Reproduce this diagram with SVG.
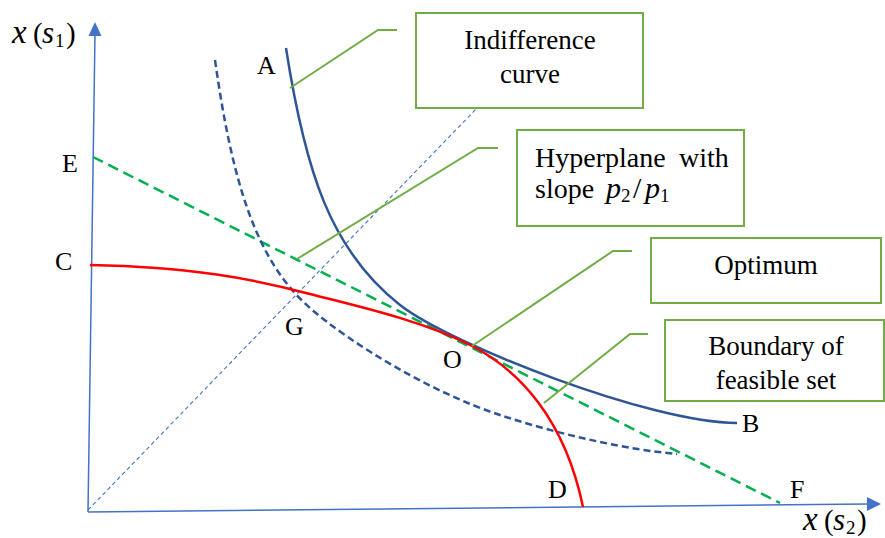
<svg xmlns="http://www.w3.org/2000/svg" width="885" height="538" viewBox="0 0 885 538">
<defs>
<style>
.lbl{font-family:"Liberation Serif","Times New Roman",serif;font-size:26px;fill:#000}
.box{fill:#fff;stroke:#70AD47;stroke-width:2}
.lead{fill:none;stroke:#70AD47;stroke-width:2}
.btxt{font-family:"Liberation Serif","Times New Roman",serif;font-size:27px;fill:#000;text-anchor:middle}
.ltxt{font-family:"Liberation Serif","Times New Roman",serif;font-size:28px;fill:#000}
.math{font-family:"Liberation Serif","Times New Roman",serif;font-size:29px;fill:#000}
.it{font-style:italic}
.sub{font-size:19px}
.axis{fill:none;stroke:#4472C4;stroke-width:1.5}
</style>
</defs>
<rect width="885" height="538" fill="#fff"/>
<g id="axes">
<path class="axis" d="M88,512 L95,34"/>
<polygon points="95,22 88.5,36 101.5,36" fill="#4472C4"/>
<path class="axis" d="M88,512 L868,504"/>
<polygon points="881,504 867,497 867,511" fill="#4472C4"/>
<text class="math" y="43"><tspan class="it" x="12" font-size="33">x</tspan><tspan x="33">(</tspan><tspan class="it" x="42" font-size="31">s</tspan><tspan class="sub" x="55" dy="4">1</tspan><tspan x="66" dy="-4">)</tspan></text>
<text class="math" y="530"><tspan class="it" x="803" font-size="33">x</tspan><tspan x="824">(</tspan><tspan class="it" x="833" font-size="31">s</tspan><tspan class="sub" x="846" dy="4">2</tspan><tspan x="857" dy="-4">)</tspan></text>
</g>
<g id="connectors">
<path d="M88,510 L478,107" fill="none" stroke="#4472C4" stroke-width="1.1" stroke-dasharray="4 3"/>
<path d="M93,157 L780,503" fill="none" stroke="#00B050" stroke-width="2.5" stroke-dasharray="11 6"/>
<path id="dashed-ic" d="M215,60 C232,180 255,260 310,308 C350,343 430,392 500,415 C560,435 630,450 677,454" fill="none" stroke="#2F5597" stroke-width="2.5" stroke-dasharray="7 4"/>
<path id="ic" d="M286,48 C305,170 330,250 400,305 C450,344 650,423 737,423" fill="none" stroke="#2F5597" stroke-width="2.5"/>
<path id="boundary" d="M90,265 C190,267 250,278 310,294 C360,307 420,320 470,345 C520,370 565,420 583,507" fill="none" stroke="#FF0000" stroke-width="2.5"/>
<path class="lead" d="M290,88 L378,30 L397,30"/>
<path class="lead" d="M297,259 L478,148 L498,148"/>
<path class="lead" d="M472,346 L613,251 L632,251"/>
<path class="lead" d="M544,403 L630,334 L648,334"/>
</g>
<g id="points">
<text class="lbl" x="257" y="74">A</text>
<text class="lbl" x="742" y="432">B</text>
<text class="lbl" x="55" y="270">C</text>
<text class="lbl" x="548" y="498">D</text>
<text class="lbl" x="62" y="172">E</text>
<text class="lbl" x="790" y="498">F</text>
<text class="lbl" x="285" y="335">G</text>
<text class="lbl" x="443" y="368">O</text>
</g>
<g id="indifference-box">
<rect class="box" x="416" y="13" width="227" height="95"/>
<text class="btxt" x="530" y="49">Indifference</text>
<text class="btxt" x="530" y="83">curve</text>
</g>
<g id="hyperplane-box">
<rect class="box" x="517" y="130" width="227" height="96"/>
<text class="ltxt" y="167"><tspan x="535">Hyperplane</tspan><tspan x="679">with</tspan></text>
<text class="ltxt" y="198"><tspan x="535">slope</tspan><tspan class="it" x="606" font-size="30">p</tspan><tspan class="sub" x="621" dy="4">2</tspan><tspan x="633" dy="-4" font-size="30">/</tspan><tspan class="it" x="645" font-size="30">p</tspan><tspan class="sub" x="660" dy="4">1</tspan></text>
</g>
<g id="optimum-box">
<rect class="box" x="651" y="238" width="230" height="65"/>
<text class="btxt" x="766" y="274">Optimum</text>
</g>
<g id="boundary-box">
<rect class="box" x="665" y="320" width="219" height="81"/>
<text class="btxt" x="776" y="355">Boundary of</text>
<text class="btxt" x="776" y="389">feasible set</text>
</g>
</svg>
